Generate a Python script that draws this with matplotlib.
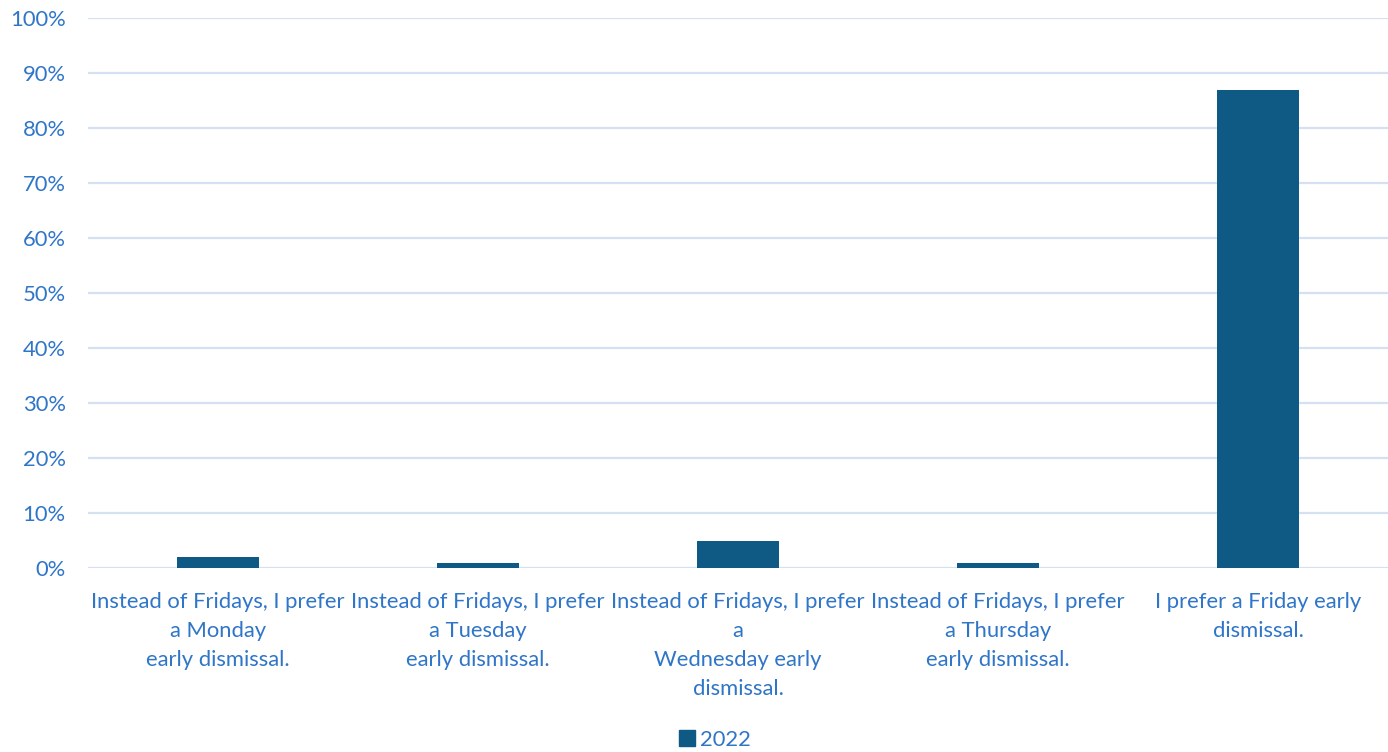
import matplotlib
matplotlib.use("Agg")
import matplotlib.pyplot as plt
from matplotlib.patches import Patch

categories = [
    "Instead of Fridays, I prefer\na Monday\nearly dismissal.",
    "Instead of Fridays, I prefer\na Tuesday\nearly dismissal.",
    "Instead of Fridays, I prefer\na\nWednesday early\ndismissal.",
    "Instead of Fridays, I prefer\na Thursday\nearly dismissal.",
    "I prefer a Friday early\ndismissal.",
]
values_2022 = [2, 1, 5, 1, 87]
yticks = [0, 10, 20, 30, 40, 50, 60, 70, 80, 90, 100]
ytick_labels = [f"{v}%" for v in yticks]
series_name = "2022"

BAR = "#0E5A84"
TXT = "#2F75C8"
GRID = "#D5E1F2"

plt.rcParams['font.family'] = ['Lato', 'DejaVu Sans']

fig = plt.figure(figsize=(13.88, 7.52), dpi=100)
ax = fig.add_axes([88/1388, 1-568/752, 1-88/1388, 550/752])

x = list(range(len(categories)))
ax.bar(x, values_2022, width=0.315, color=BAR, zorder=3)
ax.set_xlim(-0.5, len(categories)-0.5)
ax.set_ylim(0, 100)
ax.set_yticks(yticks)
ax.set_yticklabels(ytick_labels)
ax.set_xticks(x)
ax.set_xticklabels(categories, linespacing=1.55)
ax.tick_params(axis='both', length=0, labelsize=15.8, colors=TXT)
ax.tick_params(axis='x', pad=17.5)
ax.tick_params(axis='y', pad=16)
ax.grid(axis='y', color=GRID, linewidth=1.6, zorder=0)
for s in ax.spines.values():
    s.set_visible(False)

fig.legend(handles=[Patch(color=BAR, label=series_name)], loc='center',
           bbox_to_anchor=(0.515, 1-740/752), frameon=False, fontsize=15.8,
           labelcolor=TXT, handlelength=0.75, handleheight=0.75, handletextpad=0.2)

fig.savefig("out.png", dpi=100)
